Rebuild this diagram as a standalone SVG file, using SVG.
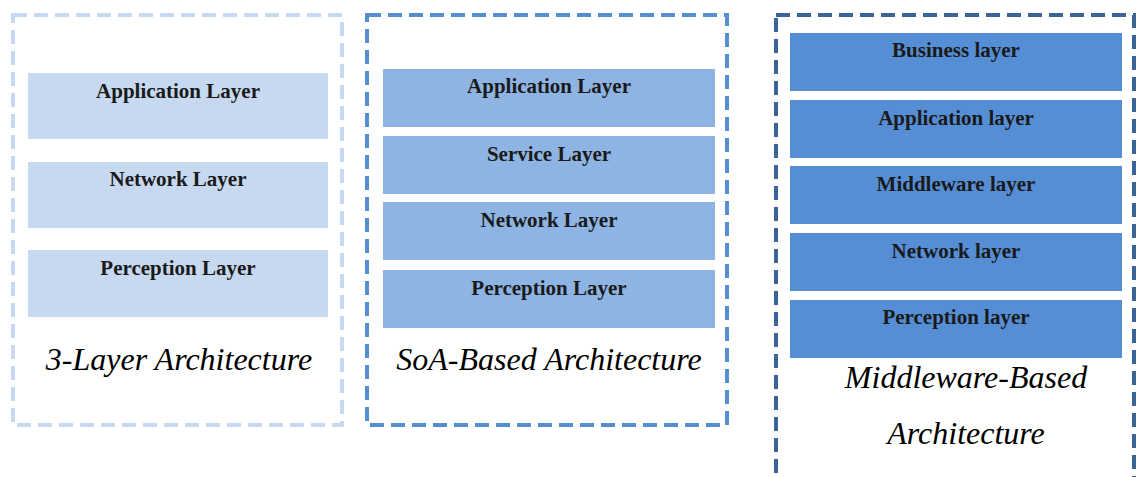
<svg xmlns="http://www.w3.org/2000/svg" width="1138" height="477" viewBox="0 0 1138 477">
<style>
.frame{fill:none;stroke-width:4;stroke-dasharray:14,7}
.f1{stroke:#c6d9f0}
.f2{stroke:#558ed5}
.f3{stroke:#3a6495}
.l1{fill:#c6d9f0}
.l2{fill:#8eb4e3}
.l3{fill:#558ed5}
.lt{font-family:"Liberation Serif",serif;font-weight:bold;font-size:21px;fill:#1a1a1a;text-anchor:middle}
.tt{font-family:"Liberation Serif",serif;font-style:italic;font-size:32px;fill:#000;text-anchor:middle}
</style>
<rect width="1138" height="477" fill="#fff"/>
<g id="arch-3layer">
<rect class="frame f1" x="13" y="15" width="329" height="410"/>
<g id="n1-app"><rect class="l1" x="28" y="73" width="300" height="66"/><text class="lt" x="178" y="98">Application Layer</text></g>
<g id="n1-net"><rect class="l1" x="28" y="162" width="300" height="66"/><text class="lt" x="178" y="186">Network Layer</text></g>
<g id="n1-per"><rect class="l1" x="28" y="250" width="300" height="67"/><text class="lt" x="178" y="275">Perception Layer</text></g>
<text class="tt" x="179" y="370">3-Layer Architecture</text>
</g>
<g id="arch-soa">
<rect class="frame f2" x="367" y="15" width="360" height="410"/>
<g id="n2-app"><rect class="l2" x="383" y="69" width="332" height="58"/><text class="lt" x="549" y="93">Application Layer</text></g>
<g id="n2-svc"><rect class="l2" x="383" y="136" width="332" height="58"/><text class="lt" x="549" y="161">Service Layer</text></g>
<g id="n2-net"><rect class="l2" x="383" y="202" width="332" height="58"/><text class="lt" x="549" y="227">Network Layer</text></g>
<g id="n2-per"><rect class="l2" x="383" y="270" width="332" height="58"/><text class="lt" x="549" y="295">Perception Layer</text></g>
<text class="tt" x="549" y="370">SoA-Based Architecture</text>
</g>
<g id="arch-middleware">
<rect class="frame f3" x="776" y="15" width="358" height="480"/>
<g id="n3-bus"><rect class="l3" x="790" y="33" width="332" height="58"/><text class="lt" x="956" y="57">Business layer</text></g>
<g id="n3-app"><rect class="l3" x="790" y="100" width="332" height="58"/><text class="lt" x="956" y="125">Application layer</text></g>
<g id="n3-mid"><rect class="l3" x="790" y="166" width="332" height="58"/><text class="lt" x="956" y="191">Middleware layer</text></g>
<g id="n3-net"><rect class="l3" x="790" y="233" width="332" height="58"/><text class="lt" x="956" y="258">Network layer</text></g>
<g id="n3-per"><rect class="l3" x="790" y="300" width="332" height="58"/><text class="lt" x="956" y="324">Perception layer</text></g>
<text class="tt" x="966" y="388">Middleware-Based</text>
<text class="tt" x="966" y="444">Architecture</text>
</g>
<g id="connectors"></g>
</svg>
